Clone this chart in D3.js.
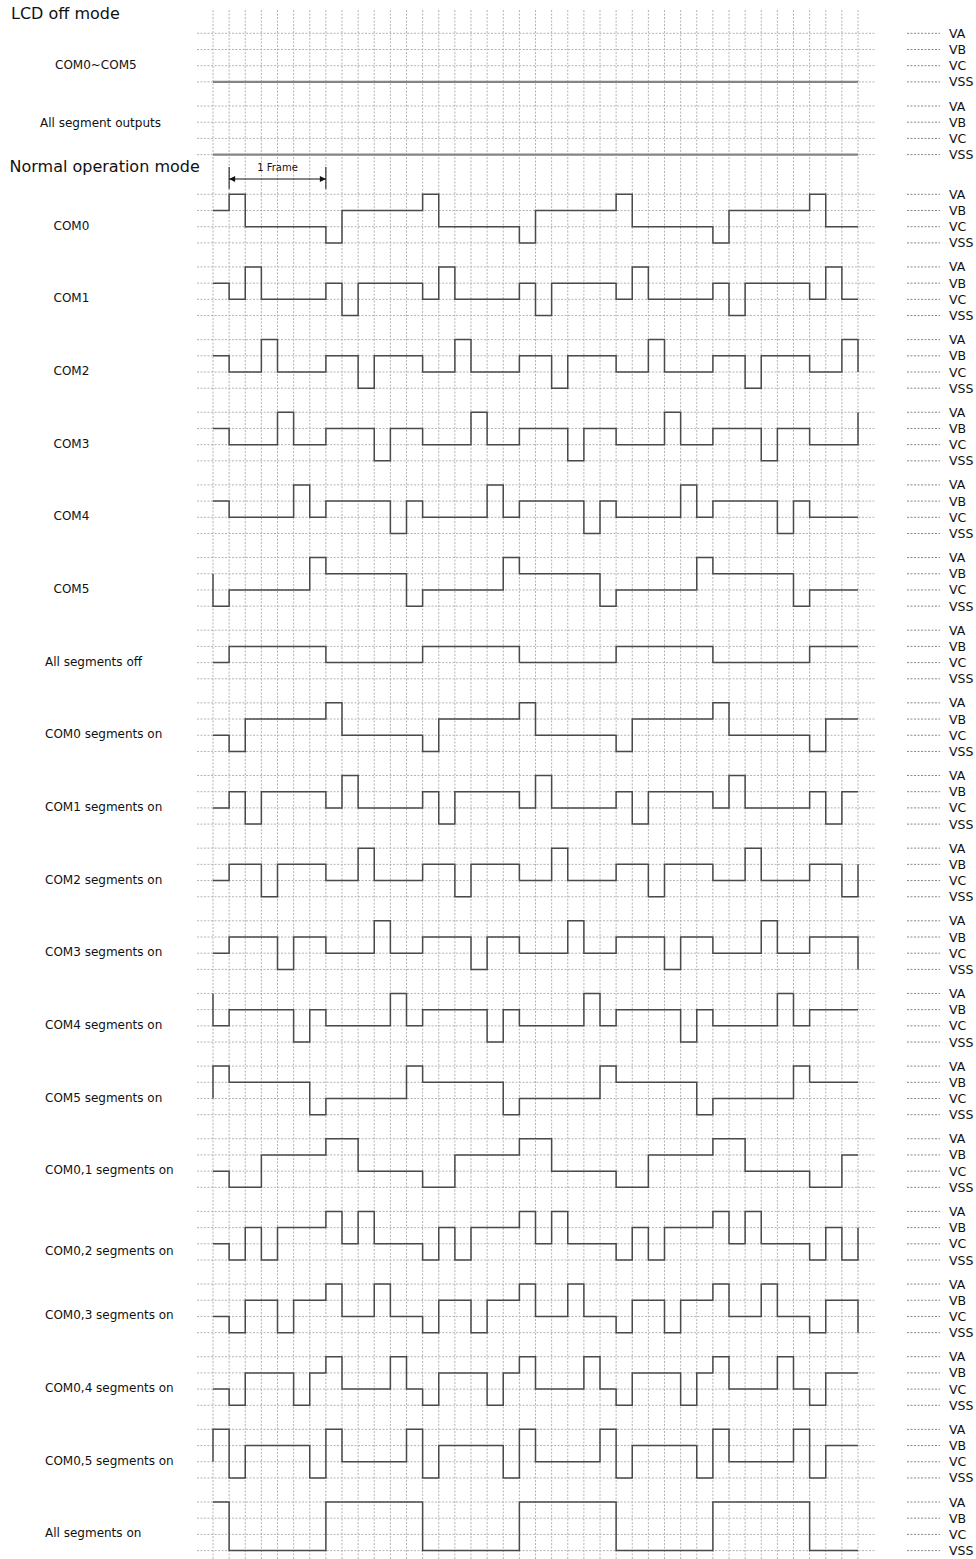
<!DOCTYPE html>
<html><head><meta charset="utf-8">
<script src="https://cdn.jsdelivr.net/npm/d3@7"></script>
<style>
body{margin:0;background:#fff}
svg{display:block}
text{font-family:"DejaVu Sans",sans-serif;fill:#111}
</style>
</head><body>
<svg id="c" width="976" height="1559"></svg>
<script>
// ---------- data ----------
const levelNames = ["VA", "VB", "VC", "VSS"];
const levelCodes = ["A", "B", "C", "S"];
const slotCount = 40;
// Each waveform: entry level, then levels of slots 0..40 (slot 40 = level reached at the right edge)
const offModeLabels = ["COM0~COM5", "All segment outputs"];
const offModeWaves = [
  "SS SSSSSS SSSSSS SSSSSS SSSSSS SSSSSS SSSSSS SSSS",
  "SS SSSSSS SSSSSS SSSSSS SSSSSS SSSSSS SSSSSS SSSS"
];
const comLabels = ["COM0", "COM1", "COM2", "COM3", "COM4", "COM5"];
const comWaves = [
  "BB ACCCCC SBBBBB ACCCCC SBBBBB ACCCCC SBBBBB ACCC",
  "BB CACCCC BSBBBB CACCCC BSBBBB CACCCC BSBBBB CACC",
  "BB CCACCC BBSBBB CCACCC BBSBBB CCACCC BBSBBB CCAC",
  "BB CCCACC BBBSBB CCCACC BBBSBB CCCACC BBBSBB CCCA",
  "BB CCCCAC BBBBSB CCCCAC BBBBSB CCCCAC BBBBSB CCCC",
  "BS CCCCCA BBBBBS CCCCCA BBBBBS CCCCCA BBBBBS CCCC"
];
const segLabels = ["All segments off", "COM0 segments on", "COM1 segments on", "COM2 segments on",
  "COM3 segments on", "COM4 segments on", "COM5 segments on", "COM0,1 segments on",
  "COM0,2 segments on", "COM0,3 segments on", "COM0,4 segments on", "COM0,5 segments on",
  "All segments on"];
const segWaves = [
  "CC BBBBBB CCCCCC BBBBBB CCCCCC BBBBBB CCCCCC BBBB",
  "CC SBBBBB ACCCCC SBBBBB ACCCCC SBBBBB ACCCCC SBBB",
  "CC BSBBBB CACCCC BSBBBB CACCCC BSBBBB CACCCC BSBB",
  "CC BBSBBB CCACCC BBSBBB CCACCC BBSBBB CCACCC BBSB",
  "CC BBBSBB CCCACC BBBSBB CCCACC BBBSBB CCCACC BBBS",
  "AC BBBBSB CCCCAC BBBBSB CCCCAC BBBBSB CCCCAC BBBB",
  "CA BBBBBS CCCCCA BBBBBS CCCCCA BBBBBS CCCCCA BBBB",
  "CC SSBBBB AACCCC SSBBBB AACCCC SSBBBB AACCCC SSBB",
  "CC SBSBBB ACACCC SBSBBB ACACCC SBSBBB ACACCC SBSB",
  "CC SBBSBB ACCACC SBBSBB ACCACC SBBSBB ACCACC SBBS",
  "CC SBBBSB ACCCAC SBBBSB ACCCAC SBBBSB ACCCAC SBBB",
  "CA SBBBBS ACCCCA SBBBBS ACCCCA SBBBBS ACCCCA SBBB",
  "AA SSSSSS AAAAAA SSSSSS AAAAAA SSSSSS AAAAAA SSSS"
];
const sectionTitles = ["LCD off mode", "Normal operation mode"];
const frameLabel = "1 Frame";
const frameStart = 1, frameEnd = 7;

// ---------- layout ----------
const W = 976, H = 1559;
const svg = d3.select("#c");
const x = d3.scaleLinear().domain([0, slotCount]).range([213, 858]);
const gap = 16.2;
const panels = [];
offModeLabels.forEach((l, i) => panels.push({label: l, wave: offModeWaves[i], top: 33.3 + i * 72.7,
  lx: i === 0 ? 55 : 40, lref: i === 0 ? "C" : "B", ldy: i === 0 ? 3 : 5, off: true}));
comLabels.forEach((l, i) => panels.push({label: l, wave: comWaves[i], top: 194.3 + i * 72.65,
  lx: 53.5, lref: "C", ldy: 3, off: false}));
segLabels.forEach((l, i) => panels.push({label: l, wave: segWaves[i], top: 194.3 + (i + 6) * 72.65,
  lx: 45, lref: "C", ldy: l === "COM0,2 segments on" ? 11 : 3, off: false}));
panels.forEach(p => {
  p.y = d3.scalePoint().domain(levelCodes).range([p.top, p.top + 3 * gap]);
  p.levels = p.wave.replace(/\s+/g, "").split("");
});

// ---------- grid ----------
const grid = svg.append("g").attr("stroke", "#b4b4b4").attr("stroke-width", 1)
  .attr("stroke-dasharray", "2,1.5");
grid.selectAll("line.v").data(x.ticks(slotCount)).join("line").attr("class", "v")
  .attr("x1", d => x(d)).attr("x2", d => x(d)).attr("y1", 10).attr("y2", H);
panels.forEach(p => {
  grid.append("g").selectAll("line").data(levelCodes).join("line")
    .attr("x1", 197).attr("x2", 875).attr("y1", d => p.y(d)).attr("y2", d => p.y(d));
  grid.append("g").selectAll("line").data(levelCodes).join("line")
    .attr("x1", 907).attr("x2", 940).attr("y1", d => p.y(d)).attr("y2", d => p.y(d))
    .attr("stroke", "#888");
});

// ---------- right level labels ----------
panels.forEach(p => {
  svg.append("g").selectAll("text").data(levelCodes).join("text")
    .attr("x", 949).attr("y", d => p.y(d)).attr("dy", "0.36em")
    .attr("font-size", 12.5).text((d, i) => levelNames[i]);
});

// ---------- waveforms ----------
const line = d3.line().curve(d3.curveStepAfter);
panels.forEach(p => {
  const pts = [[x(0), p.y(p.levels[0])]];
  p.levels.slice(1).forEach((v, k) => pts.push([x(k), p.y(v)]));
  svg.append("path").attr("d", line(pts)).attr("fill", "none")
    .attr("stroke", p.off ? "#858585" : "#4a4a4a")
    .attr("stroke-width", p.off ? 2.2 : 1.5);
  svg.append("text").attr("x", p.lx).attr("y", p.y(p.lref) + p.ldy)
    .attr("font-size", 12).text(p.label);
});

// ---------- section titles ----------
svg.append("text").attr("x", 11).attr("y", 19).attr("font-size", 16).text(sectionTitles[0]);
svg.append("text").attr("x", 9.5).attr("y", 172).attr("font-size", 16).text(sectionTitles[1]);

// ---------- frame marker ----------
const defs = svg.append("defs");
["s", "e"].forEach(id => {
  defs.append("marker").attr("id", "ar" + id).attr("viewBox", "0 0 10 10")
    .attr("refX", 10).attr("refY", 5).attr("markerWidth", 7).attr("markerHeight", 6)
    .attr("markerUnits", "userSpaceOnUse").attr("orient", id === "s" ? "auto-start-reverse" : "auto")
    .append("path").attr("d", "M0,0L10,5L0,10Z").attr("fill", "#111");
});
const fm = svg.append("g");
[frameStart, frameEnd].forEach(t => fm.append("line").attr("x1", x(t)).attr("x2", x(t))
  .attr("y1", 167).attr("y2", 189).attr("stroke", "#111").attr("stroke-width", 1));
fm.append("line").attr("x1", x(frameStart)).attr("x2", x(frameEnd)).attr("y1", 179).attr("y2", 179)
  .attr("stroke", "#111").attr("stroke-width", 1)
  .attr("marker-start", "url(#ars)").attr("marker-end", "url(#are)");
fm.append("text").attr("x", (x(frameStart) + x(frameEnd)) / 2).attr("y", 170.5)
  .attr("text-anchor", "middle").attr("font-size", 10).text(frameLabel);
</script>
</body></html>
